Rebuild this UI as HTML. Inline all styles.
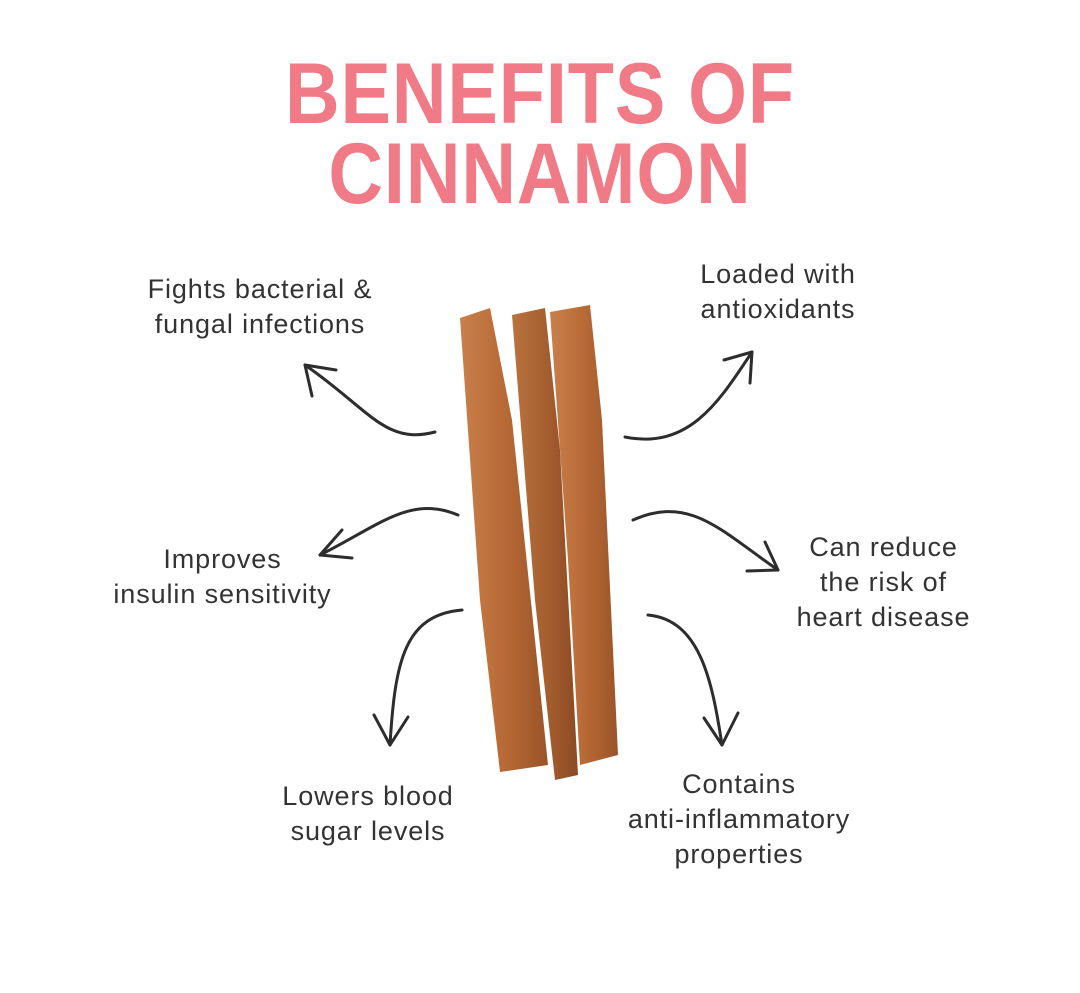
<!DOCTYPE html>
<html><head><meta charset="utf-8"><style>
body{margin:0;width:1080px;height:993px;background:#fff;position:relative;overflow:hidden;font-family:"Liberation Sans",sans-serif}
.t{position:absolute;left:0;width:1080px;text-align:center;color:#f07a85;font-weight:bold;font-size:86px;letter-spacing:1px;line-height:1;transform:scaleX(0.88);transform-origin:540px 0}
.l{position:absolute;color:#333;font-size:27px;line-height:35px;text-align:center;white-space:nowrap;letter-spacing:0.9px}
svg{position:absolute;left:0;top:0}
</style></head><body>
<div class="t" style="top:51px">BENEFITS OF</div>
<div class="t" style="top:131px">CINNAMON</div>
<svg width="1080" height="993">
<defs>
<linearGradient id="g1" x1="0" x2="1"><stop offset="0" stop-color="#c9804c"/><stop offset=".5" stop-color="#b86a36"/><stop offset="1" stop-color="#9a5428"/></linearGradient>
<linearGradient id="g2" x1="0" x2="1"><stop offset="0" stop-color="#b9733f"/><stop offset=".5" stop-color="#a65f30"/><stop offset="1" stop-color="#8c4a22"/></linearGradient>
</defs>
<polygon points="460,318 490,308 512,420 548,765 500,772 480,600" fill="url(#g1)"/>
<polygon points="512,315 545,308 560,450 578,775 555,780 535,600" fill="url(#g2)"/>
<polygon points="550,312 590,305 602,420 618,755 580,765 568,560" fill="url(#g1)"/>
<g fill="none" stroke="#2d2d2d" stroke-width="3" stroke-linecap="round" stroke-linejoin="round">
<path d="M435,432 C385,445 370,410 305,365"/><path d="M305,365 L336,370 M305,365 L312,396"/>
<path d="M625,437 C690,450 720,400 752,352"/><path d="M752,352 L724,360 M752,352 L750,383"/>
<path d="M458,515 C410,495 380,525 320,555"/><path d="M320,555 L342,530 M320,555 L352,558"/>
<path d="M633,520 C690,495 720,530 778,570"/><path d="M778,570 L747,571 M778,570 L765,542"/>
<path d="M462,610 C405,615 395,660 390,745"/><path d="M390,745 L374,715 M390,745 L408,717"/>
<path d="M648,615 C700,620 712,680 722,745"/><path d="M722,745 L704,718 M722,745 L738,713"/>
</g>
</svg>
<div class="l" style="left:130px;top:272px;width:260px">Fights bacterial &amp;<br>fungal infections</div>
<div class="l" style="left:663px;top:257px;width:230px">Loaded with<br>antioxidants</div>
<div class="l" style="left:90px;top:542px;width:265px">Improves<br>insulin sensitivity</div>
<div class="l" style="left:771px;top:530px;width:225px">Can reduce<br>the risk of<br>heart disease</div>
<div class="l" style="left:248px;top:779px;width:240px">Lowers blood<br>sugar levels</div>
<div class="l" style="left:600px;top:767px;width:278px">Contains<br>anti-inflammatory<br>properties</div>
</body></html>
